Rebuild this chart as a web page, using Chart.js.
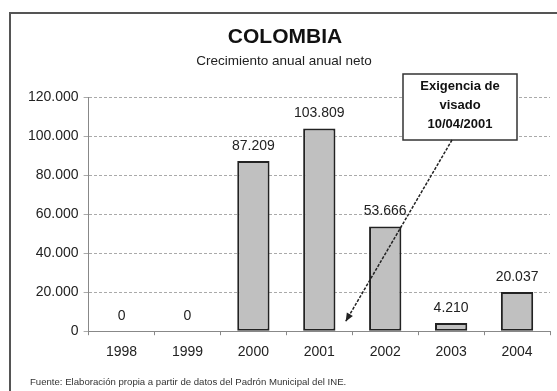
<html>
<head>
<script src="https://cdn.jsdelivr.net/npm/chart.js@4"></script>
<title>COLOMBIA</title>
<style>
  body { margin: 0; background: #fff; }
</style>
</head>
<body>
<canvas id="myChart" width="557" height="391"></canvas>
<script>
const years = ['1998', '1999', '2000', '2001', '2002', '2003', '2004'];
const values = [0, 0, 87209, 103809, 53666, 4210, 20037];
const yTicks = [0, 20000, 40000, 60000, 80000, 100000, 120000];
const titleText = 'COLOMBIA';
const subtitleText = 'Crecimiento anual anual neto';
const noteLines = ['Exigencia de', 'visado', '10/04/2001'];
const sourceNote = 'Fuente: Elaboración propia a partir de datos del Padrón Municipal del INE.';

// miles con punto
function fmt(v) {
  return String(v).replace(/\B(?=(\d{3})+(?!\d))/g, '.');
}

const FONT = '"Liberation Sans", Arial, sans-serif';

const extras = {
  id: 'extras',
  afterDraw(chart) {
    const ctx = chart.ctx;
    const x = chart.scales.x, y = chart.scales.y;
    ctx.save();
    // marco
    ctx.strokeStyle = '#555';
    ctx.lineWidth = 2;
    ctx.beginPath();
    ctx.moveTo(10, 391);
    ctx.lineTo(10, 13);
    ctx.lineTo(557, 13);
    ctx.stroke();

    // titulos
    ctx.textAlign = 'center';
    ctx.textBaseline = 'middle';
    ctx.fillStyle = '#111';
    ctx.font = 'bold 21px ' + FONT;
    ctx.fillText(titleText, 285, 37);
    ctx.fillStyle = '#222';
    ctx.font = '13.5px ' + FONT;
    ctx.fillText(subtitleText, 284, 61);

    // etiquetas de valor
    ctx.fillStyle = '#222';
    ctx.font = '14px ' + FONT;
    values.forEach((v, i) => {
      ctx.fillText(fmt(v), x.getPixelForValue(i), y.getPixelForValue(v) - 15);
    });

    // cuadro de nota
    const bx = 403, by = 74, bw = 114, bh = 66;
    ctx.fillStyle = '#fff';
    ctx.fillRect(bx, by, bw, bh);
    ctx.strokeStyle = '#333';
    ctx.lineWidth = 1.5;
    ctx.strokeRect(bx, by, bw, bh);
    ctx.fillStyle = '#111';
    ctx.font = 'bold 13px ' + FONT;
    noteLines.forEach((t, i) => ctx.fillText(t, bx + bw / 2, by + 12 + i * 19));

    // flecha
    const x0 = 452, y0 = by + bh;
    const x1 = x.getPixelForValue(3.4), y1 = y.getPixelForValue(5000);
    ctx.strokeStyle = '#222';
    ctx.lineWidth = 1.5;
    ctx.setLineDash([3, 1.5]);
    ctx.beginPath();
    ctx.moveTo(x0, y0);
    ctx.lineTo(x1, y1);
    ctx.stroke();
    ctx.setLineDash([]);
    const a = Math.atan2(y1 - y0, x1 - x0);
    ctx.fillStyle = '#222';
    ctx.beginPath();
    ctx.moveTo(x1, y1);
    ctx.lineTo(x1 - 9 * Math.cos(a - 0.4), y1 - 9 * Math.sin(a - 0.4));
    ctx.lineTo(x1 - 9 * Math.cos(a + 0.4), y1 - 9 * Math.sin(a + 0.4));
    ctx.closePath();
    ctx.fill();

    // fuente
    ctx.font = '9.6px ' + FONT;
    ctx.textAlign = 'left';
    ctx.fillStyle = '#333';
    ctx.fillText(sourceNote, 30, 382);
    ctx.restore();
  }
};

new Chart(document.getElementById('myChart'), {
  type: 'bar',
  data: {
    labels: years,
    datasets: [{
      data: values,
      backgroundColor: '#c0c0c0',
      borderColor: '#222',
      borderWidth: 2,
      borderSkipped: false,
      barPercentage: 0.49,
      categoryPercentage: 1
    }]
  },
  plugins: [extras],
  options: {
    responsive: false,
    animation: false,
    devicePixelRatio: 1,
    layout: { padding: { left: 23, right: 7, top: 97, bottom: 21 } },
    plugins: {
      legend: { display: false },
      tooltip: { enabled: false }
    },
    scales: {
      x: {
        grid: { display: true, drawOnChartArea: false, drawTicks: true, tickLength: 4, color: '#888' },
        border: { color: '#888', width: 1 },
        ticks: { color: '#222', font: { family: FONT, size: 14 }, padding: 9 }
      },
      y: {
        min: 0,
        max: 120000,
        afterBuildTicks(s) { s.ticks = yTicks.map(v => ({ value: v })); },
        grid: { color: '#aaa', tickLength: 5, lineWidth: 1 },
        border: { color: '#888', dash: [3, 2] },
        ticks: {
          color: '#222',
          font: { family: FONT, size: 14 },
          padding: 5,
          callback: v => fmt(v)
        }
      }
    }
  }
});
</script>
</body>
</html>
